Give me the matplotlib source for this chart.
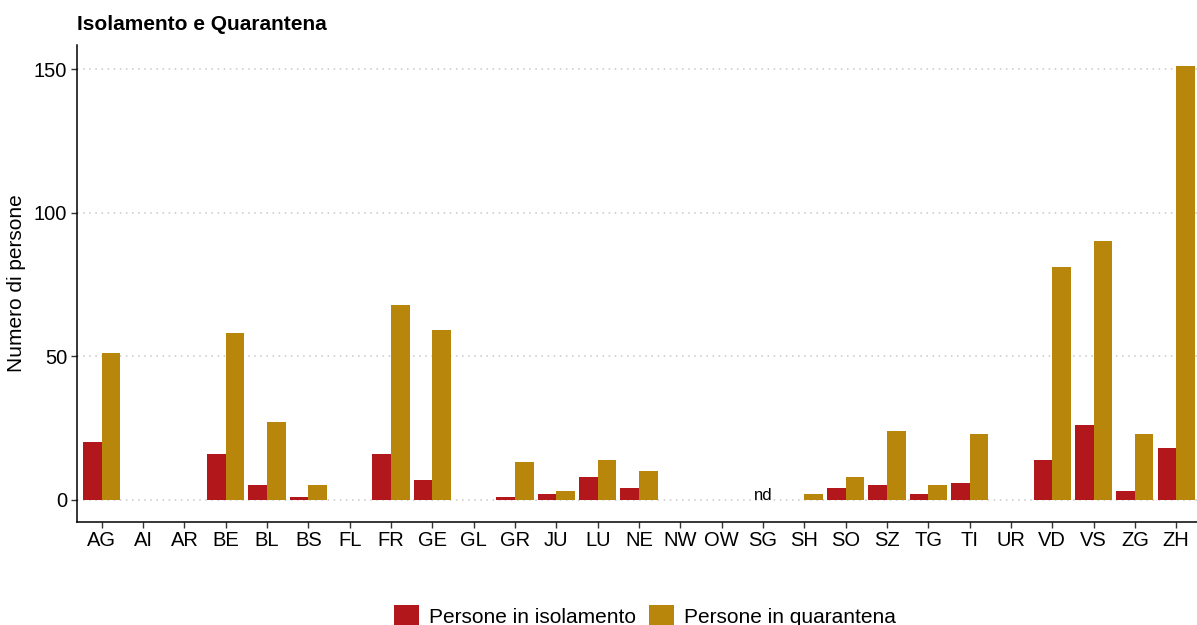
import matplotlib
matplotlib.use("Agg")
import matplotlib.pyplot as plt
import numpy as np
from matplotlib.patches import Patch

plt.rcParams['font.family'] = ['Liberation Sans', 'DejaVu Sans']

cantons = ["AG", "AI", "AR", "BE", "BL", "BS", "FL", "FR", "GE", "GL", "GR", "JU", "LU",
           "NE", "NW", "OW", "SG", "SH", "SO", "SZ", "TG", "TI", "UR", "VD", "VS", "ZG", "ZH"]
isolamento = [20, 0, 0, 16, 5, 1, 0, 16, 7, 0, 1, 2, 8,
              4, 0, 0, np.nan, 0, 4, 5, 2, 6, 0, 14, 26, 3, 18]
quarantena = [51, 0, 0, 58, 27, 5, 0, 68, 59, 0, 13, 3, 14,
              10, 0, 0, np.nan, 2, 8, 24, 5, 23, 0, 81, 90, 23, 151]
nd_labels = {"SG": "nd"}
yticks = [0, 50, 100, 150]

col_iso = "#B2181B"
col_qua = "#B8860B"

fig = plt.figure(figsize=(11.97, 6.25), dpi=100)
ax = fig.add_axes([77/1197, (625-521.5)/625, (1201-77)/1197, (521.5-44.5)/625])

x = np.arange(len(cantons))
w = 0.45
iso = np.nan_to_num(np.array(isolamento, dtype=float))
qua = np.nan_to_num(np.array(quarantena, dtype=float))
ax.bar(x - w/2, iso, width=w, color=col_iso, zorder=3)
ax.bar(x + w/2, qua, width=w, color=col_qua, zorder=3)

for k, lab in nd_labels.items():
    i = cantons.index(k)
    ax.text(i, 0, lab, ha="center", va="baseline", fontsize=12, color="black", zorder=4)

ymax = 151
ax.set_ylim(-0.05*ymax, ymax*1.05)
ax.set_xlim(-0.6, len(cantons) - 1 + 0.6)
ax.set_yticks(yticks)
ax.set_xticks(x)
ax.set_xticklabels(cantons)
ax.yaxis.grid(True, linestyle=(0, (1, 3)), color="#c8c8c8", linewidth=1.1, zorder=0)
ax.set_axisbelow(True)
for s in ["top", "right"]:
    ax.spines[s].set_visible(False)
for s in ["left", "bottom"]:
    ax.spines[s].set_color("black")
    ax.spines[s].set_linewidth(1.1)
ax.tick_params(axis="both", labelsize=14.5, length=4, color="#333333", width=1, pad=3)
ax.set_ylabel("Numero di persone", fontsize=15, labelpad=6)

fig.text(77/1197, (625-25)/625, "Isolamento e Quarantena", fontsize=15,
         fontweight="bold", ha="left", va="center")

handles = [Patch(facecolor=col_iso, label="Persone in isolamento"),
           Patch(facecolor=col_qua, label="Persone in quarantena")]
fig.legend(handles=handles, loc="center", bbox_to_anchor=(645/1197, 9/625), ncol=2,
           frameon=False, fontsize=15, handlelength=1.2, handleheight=1.2,
           handletextpad=0.5, columnspacing=0.6)

fig.savefig("out.png", dpi=100)
